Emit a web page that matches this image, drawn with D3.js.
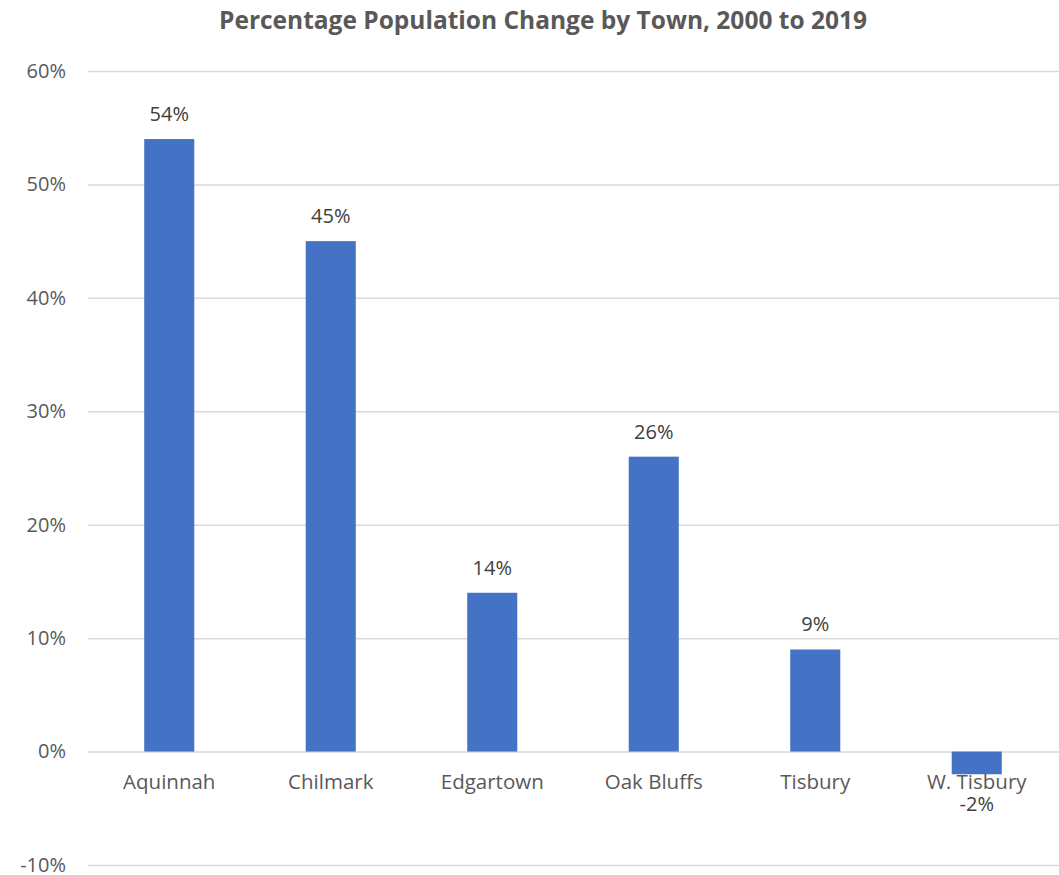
<!DOCTYPE html>
<html><head><meta charset="utf-8">
<script src="https://cdn.jsdelivr.net/npm/d3@7"></script>
<style>body{margin:0;background:#fff}svg{display:block}text{font-family:"Open Sans",sans-serif}</style>
</head><body>
<svg id="c" width="1059" height="875"></svg>
<script>
const categories = ["Aquinnah","Chilmark","Edgartown","Oak Bluffs","Tisbury","W. Tisbury"];
const values = [54,45,14,26,9,-2];
const yTicks = [-10,0,10,20,30,40,50,60];
const title = "Percentage Population Change by Town, 2000 to 2019";

const svg = d3.select("#c");
const x = d3.scaleBand().domain(categories).range([88.5,1057.5]).paddingInner(0.69).paddingOuter(0.345);
const y = d3.scaleLinear().domain([-10,60]).range([865,71]);

svg.append("text").attr("x",543).attr("y",29).attr("text-anchor","middle")
  .attr("font-size",24.5).attr("font-weight","bold").attr("fill","#595959").text(title);

const yAxis = d3.axisLeft(y).tickValues(yTicks).tickFormat(d=>d+"%").tickSize(-(1059-88)).tickPadding(22);
const gy = svg.append("g").attr("transform","translate(88,0)").call(yAxis);
gy.select(".domain").remove();
gy.selectAll(".tick line").attr("stroke","#d9d9d9").attr("stroke-width",1.5);
gy.selectAll(".tick text").attr("font-size",20).attr("fill","#595959").attr("font-family","'Open Sans',sans-serif");

svg.append("g").selectAll("rect").data(values).join("rect")
  .attr("x",(d,i)=>x(categories[i])).attr("width",x.bandwidth())
  .attr("y",d=>y(Math.max(0,d))).attr("height",d=>Math.abs(y(d)-y(0)))
  .attr("fill","#4472c4");

const xAxis = d3.axisBottom(x).tickSize(0).tickPadding(23);
const gx = svg.append("g").attr("transform",`translate(0,${y(0)})`).call(xAxis);
gx.select(".domain").remove();
gx.selectAll(".tick text").attr("font-size",20.5).attr("fill","#595959").attr("font-family","'Open Sans',sans-serif");

svg.append("g").selectAll("text").data(values).join("text")
  .attr("x",(d,i)=>x(categories[i])+x.bandwidth()/2)
  .attr("y",d=> d>=0 ? y(d)-18 : y(d)+37)
  .attr("text-anchor","middle").attr("font-size",20).attr("fill","#404040")
  .text(d=>d+"%");
</script>
</body></html>
